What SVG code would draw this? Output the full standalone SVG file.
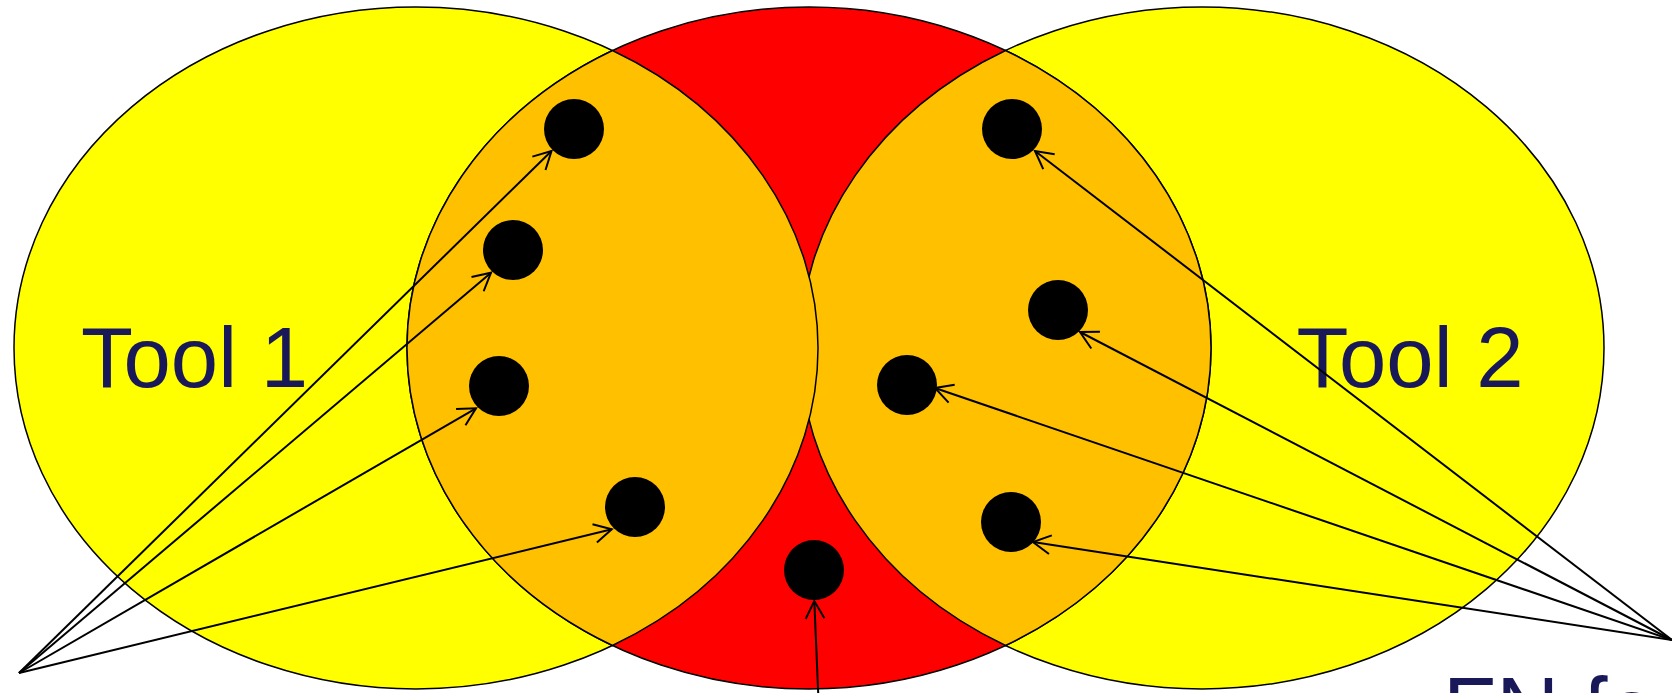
<svg xmlns="http://www.w3.org/2000/svg" width="1672" height="693" viewBox="0 0 1672 693">
<style>
.ell{stroke:#000;stroke-width:1.5}
.yel{fill:#FFFF00}
.red{fill:#FF0000}
.lens{fill:#FFC000;stroke:#000;stroke-width:1.5}
.dot{fill:#000}
.lbl{font-family:"Liberation Sans",Arial,sans-serif;fill:#191959}
.arr{stroke:#000;stroke-width:2;fill:none;marker-end:url(#open)}
</style>
<defs>
<marker id="open" markerUnits="userSpaceOnUse" markerWidth="40" markerHeight="40" viewBox="-20 -20 40 40" refX="0" refY="0" orient="auto" overflow="visible">
<path d="M-17.6,-9.4 L0,0 L-17.6,9.4" fill="none" stroke="#000" stroke-width="2"/>
</marker>
</defs>
<rect width="1672" height="693" fill="#fff"/>
<g id="tool1-set"><ellipse class="ell yel" cx="416" cy="348" rx="402" ry="341"/></g>
<g id="tool2-set"><ellipse class="ell yel" cx="1202" cy="348" rx="402" ry="341"/></g>
<g id="fn-set"><ellipse class="ell red" cx="809" cy="348" rx="402" ry="341"/></g>
<g id="overlap-right"><path class="lens" d="M1005.5,50.5 A402,341 0 0 0 1005.5,645.5 A402,341 0 0 0 1005.5,50.5 Z"/></g>
<g id="overlap-left"><path class="lens" d="M612.5,50.5 A402,341 0 0 0 612.5,645.5 A402,341 0 0 0 612.5,50.5 Z"/></g>
<g id="dots">
<g id="d1"><circle class="dot" cx="574" cy="129" r="30"/></g>
<g id="d2"><circle class="dot" cx="513" cy="250" r="30"/></g>
<g id="d3"><circle class="dot" cx="499" cy="386" r="30"/></g>
<g id="d4"><circle class="dot" cx="635" cy="507" r="30"/></g>
<g id="d5"><circle class="dot" cx="814" cy="570" r="30"/></g>
<g id="d6"><circle class="dot" cx="1012" cy="129" r="30"/></g>
<g id="d7"><circle class="dot" cx="1058" cy="310" r="30"/></g>
<g id="d8"><circle class="dot" cx="907" cy="385" r="30"/></g>
<g id="d9"><circle class="dot" cx="1011" cy="522" r="30"/></g>
</g>
<g id="label-tool1"><text class="lbl" x="81" y="387" font-size="85" textLength="227" lengthAdjust="spacingAndGlyphs">Tool 1</text></g>
<g id="label-tool2"><text class="lbl" x="1296.5" y="387" font-size="85" textLength="227" lengthAdjust="spacingAndGlyphs">Tool 2</text></g>
<g id="label-fn"><text class="lbl" x="1443" y="742" font-size="92" textLength="242" lengthAdjust="spacingAndGlyphs">FN for</text></g>
<g id="connectors">
<line class="arr" x1="19" y1="673" x2="551.5" y2="151"/>
<line class="arr" x1="19" y1="673" x2="491" y2="272.7"/>
<line class="arr" x1="19" y1="673" x2="476" y2="408.3"/>
<line class="arr" x1="19" y1="673" x2="611.8" y2="529.3"/>
<line class="arr" x1="1672" y1="640" x2="1035" y2="151"/>
<line class="arr" x1="1672" y1="640" x2="1080" y2="332"/>
<line class="arr" x1="1672" y1="640" x2="935" y2="388"/>
<line class="arr" x1="1672" y1="640" x2="1033" y2="542"/>
<line class="arr" x1="818.5" y1="700" x2="814.3" y2="601"/>
</g>
</svg>
